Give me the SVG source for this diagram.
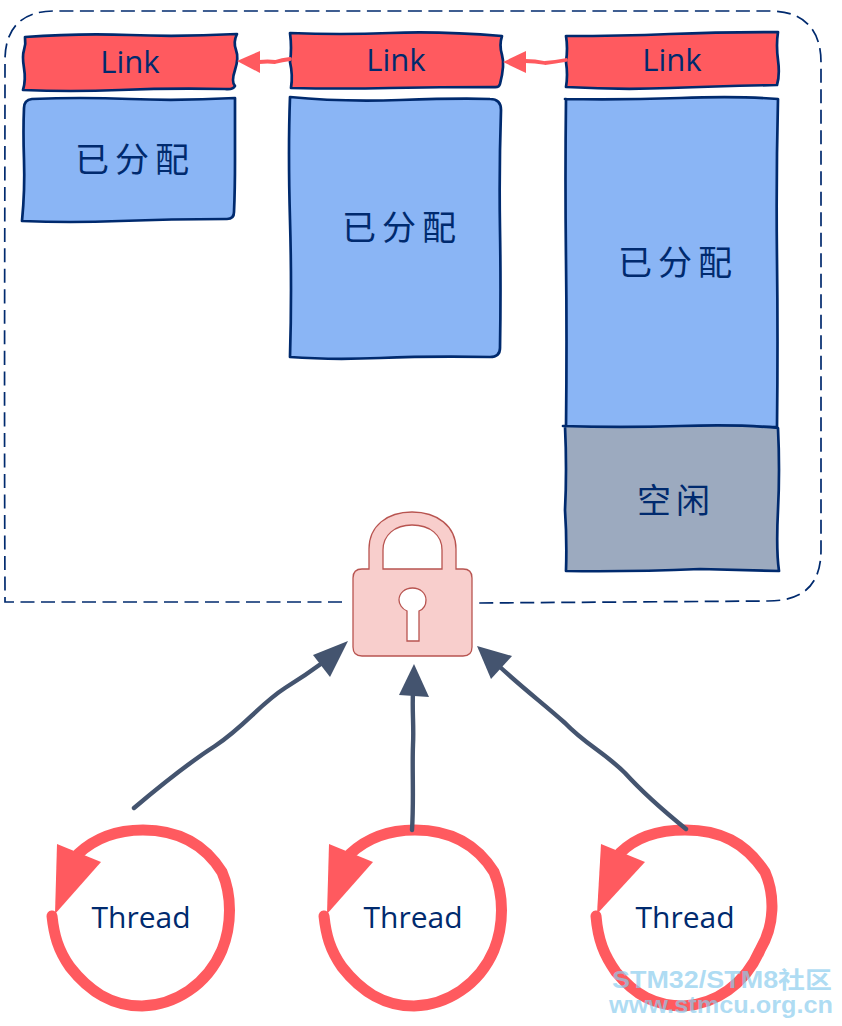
<svg xmlns="http://www.w3.org/2000/svg" width="842" height="1026" viewBox="0 0 842 1026">
<style>
.box{stroke:#002a6e;stroke-width:2.7;stroke-linejoin:round;stroke-linecap:round}
.red{fill:#ff5a5f}
.blue{fill:#8ab5f5}
.grey{fill:#9caabf}
.lat{font-family:"Open Sans","Noto Sans",sans-serif;fill:#002a6e;text-anchor:middle}
.cjk{font-family:"Noto Sans CJK SC","Noto Sans CJK JP",sans-serif;fill:#002a6e;text-anchor:middle;font-size:34px;letter-spacing:6px}
.ring{fill:none;stroke:#ff5a5f;stroke-width:11;stroke-linecap:round;stroke-linejoin:round}
.gc{fill:none;stroke:#44546f;stroke-width:4.4;stroke-linecap:round;stroke-linejoin:round}
.wm{font-family:"Liberation Sans","Noto Sans CJK SC",sans-serif;font-weight:bold;fill:#8ccdee;fill-opacity:.7}
</style>
<g id="frame"><path d="M342 602 L5 602 L5 590 C4 400 5 200 5 60 C5 28 22 11 54 11 L770 11 C804 11 821 30 821 62 L821 550 C821 586 802 601 768 601 L478 603" fill="none" stroke="#002a6e" stroke-width="1.7" stroke-dasharray="14 6.5"/></g>

<g id="link1"><path class="box red" d="M25 37 Q80 33 130 35 T237 34 Q233 42 236 50 T235 70 T235 86 Q233 90 225 89 Q170 88 120 90 T23 90 Q26 80 24 68 T24 50 T25 37Z"/><text class="lat" x="130" y="73" font-size="31">Link</text></g>
<g id="alloc1"><path class="box blue" d="M32 99 Q80 97 130 99 T235 98 Q235 130 235 160 T234 212 Q234 219 227 219 Q170 219 120 221 T22 221 Q25 190 24 160 T24 108 Q24 100 32 99Z"/><text class="cjk" x="135" y="172">已分配</text></g>

<g id="link2"><path class="box red" d="M290 33 Q340 35 390 33 T502 36 Q499 45 502 55 T500 84 Q499 88 493 87 Q440 87 390 88 T291 88 Q293 75 290 62 Q292 48 290 33Z"/><text class="lat" x="396" y="71" font-size="31">Link</text></g>
<g id="alloc2"><path class="box blue" d="M290 97 Q340 102 400 100 T490 99 Q501 99 501 110 Q499 170 500 230 T500 348 Q500 357 490 357 Q430 356 380 358 T290 357 Q292 290 290 220 T290 97Z"/><text class="cjk" x="402" y="240">已分配</text></g>

<g id="link3"><path class="box red" d="M566 36 Q620 36 670 34 T778 32 Q776 45 778 60 T777 85 Q720 86 670 88 T566 87 Q568 75 566 62 Q568 48 566 36Z"/><text class="lat" x="672" y="71" font-size="31">Link</text></g>
<g id="alloc3"><path class="box blue" d="M565 99 Q620 100 680 98 T778 99 Q776 180 777 260 T777 427 L566 427 Q567 340 566 260 T566 99Z"/><text class="cjk" x="678" y="275">已分配</text></g>
<g id="free"><path class="box grey" d="M563 426 Q620 428 680 426 T778 428 Q780 470 778 510 T779 571 Q740 570 700 569 Q630 572 566 571 Q567 540 565 510 Q567 470 565 426Z"/><text class="cjk" x="676" y="513" style="letter-spacing:5px">空闲</text></g>

<g id="lock">
<path fill="#f8cecc" stroke="#b85450" stroke-width="1.3" fill-rule="evenodd" d="M369 569 L369 549 C369 526 387 512 412 512 C437 512 456 526 456 549 L456 569 L463 569 Q472 569 472 578 L472 647 Q472 656 463 656 L362 656 Q353 656 353 647 L353 578 Q353 569 362 569Z M383 569 L442 569 L442 550 C442 535 430 525 412 525 C395 525 383 535 383 550Z M407 611 L407 641 L419 641 L419 611 C424 609 426 604 426 600 C426 593 420 588 412.500 588 C405 588 399 593 399 600 C399 604 402 609 407 611Z"/>
</g>

<g id="thread1"><path class="ring" d="M52 916 C54 935 58 950 70 967 C88 990 110 1006 142 1006 C175 1005 207 985 222 950 C232 925 232 895 222 872 C205 845 180 830 143 830 C115 830 95 838 78 854"/><polygon class="red" points="57,844 101,862 55,914"/><text class="lat" x="141" y="928" font-size="30">Thread</text></g>
<g id="thread2"><path class="ring" d="M324 916 C326 935 330 950 342 967 C360 990 382 1006 414 1006 C447 1005 479 985 494 950 C504 925 504 895 494 872 C477 845 452 830 415 830 C387 830 367 838 350 854"/><polygon class="red" points="329,844 373,862 327,914"/><text class="lat" x="413" y="928" font-size="30">Thread</text></g>
<g id="thread3"><path class="ring" d="M596 916 C598 940 604 955 616 972 C635 995 655 1006 684 1006 C715 1004 745 985 760 950 C775 925 775 895 765 872 C745 842 720 830 685 830 C655 830 635 838 620 853"/><polygon class="red" points="601,844 645,862 597,914"/><text class="lat" x="685" y="928" font-size="30">Thread</text></g>

<g id="connectors">
<path fill="none" stroke="#ff5a5f" stroke-width="3.8" stroke-linecap="round" d="M259 62 Q268 61 275 62 Q282 60 290 59"/>
<polygon class="red" points="237,61 260,51 260,73"/>
<path fill="none" stroke="#ff5a5f" stroke-width="3.8" stroke-linecap="round" d="M525 61 Q535 61 545 63 Q555 62 566 60"/>
<polygon class="red" points="503,62 526,51 526,73"/>
<path class="gc" d="M134 808 C160 786 190 762 215 746 C245 726 260 704 285 688 C298 680 310 672 325 661"/>
<polygon fill="#44546f" points="348,641 313,655 330,677"/>
<path class="gc" d="M412 830 C414 800 412 770 413 745 C414 725 412 712 413 692"/>
<polygon fill="#44546f" points="414,664 399,695 429,697"/>
<path class="gc" d="M686 829 C665 812 645 795 625 773 C605 753 585 744 565 723 C545 705 525 690 500 667"/>
<polygon fill="#44546f" points="477,646 491,679 512,656"/>
</g>

<g id="watermark"><text class="wm" x="612" y="988" font-size="23" textLength="220" lengthAdjust="spacingAndGlyphs">STM32/STM8社区</text><text class="wm" x="609" y="1013" font-size="23" textLength="224" lengthAdjust="spacingAndGlyphs">www.stmcu.org.cn</text></g>
</svg>
